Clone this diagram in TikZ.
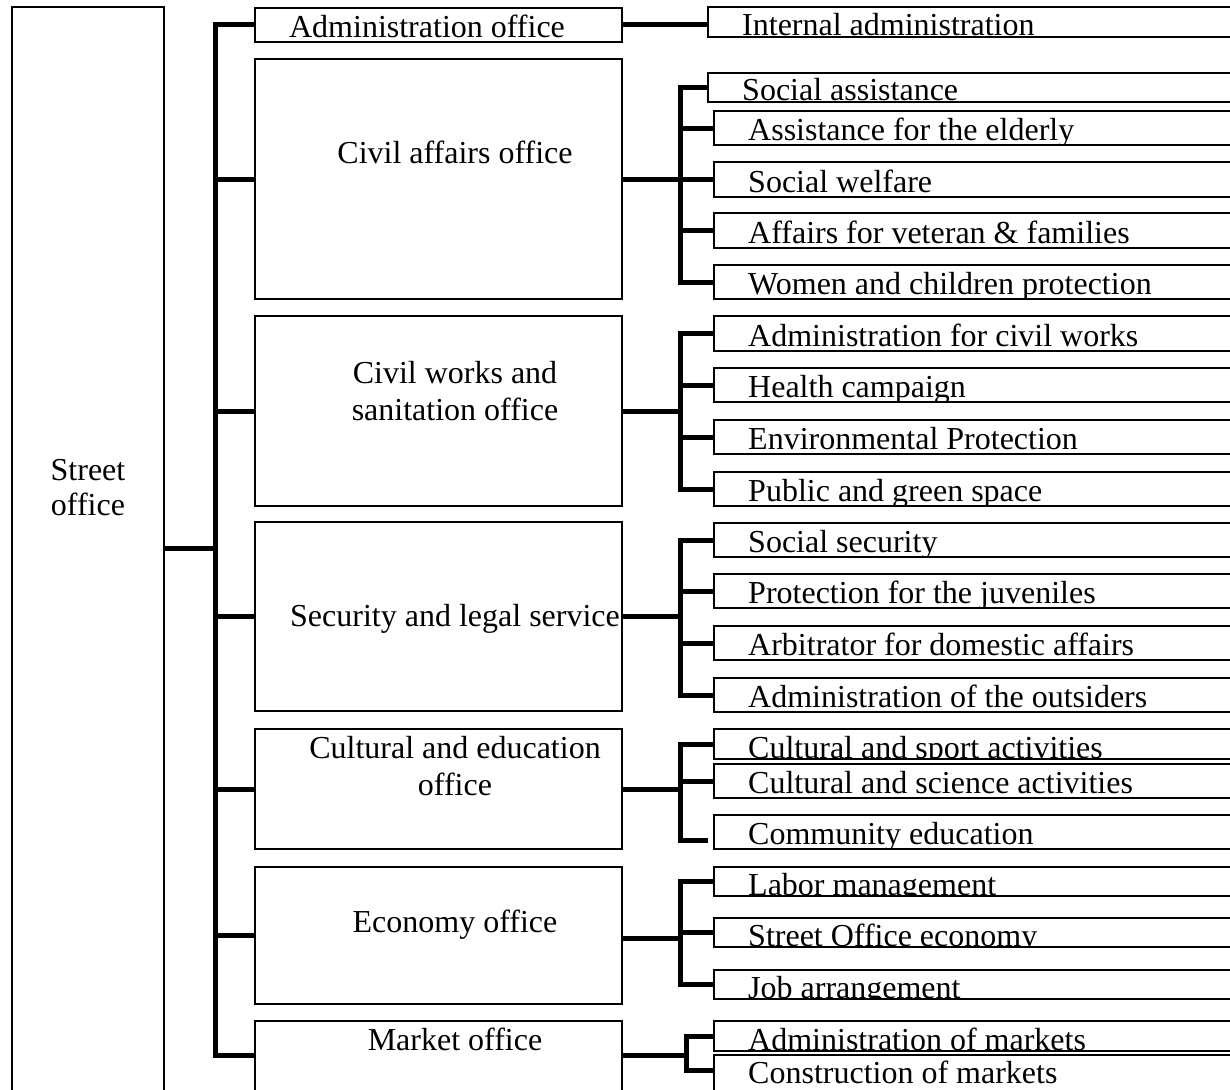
\documentclass[tikz,border=0pt]{standalone}
\usepackage{fontspec}
\setmainfont{Liberation Serif}

% A right-hand unit box, open to the right, whose label sits on its bottom edge
% #1 name, #2 left x, #3 top y, #4 bottom y, #5 label, #6 baseline lift
\newcommand\leafitem[6]{%
  \node[box, minimum width={1260pt-#2pt}, minimum height={#4pt-#3pt}] (#1) at (#2,#3) {};
  \begin{scope}
    \clip (#1.south west) rectangle (#1.north east);
    \node[leaftext] (#1text) at ([xshift=34pt,yshift=#6pt]#1.south west) {#5};
  \end{scope}}

% An office box in the middle column: #1 name, #2 top y, #3 height
\newcommand\midbox[3]{%
  \node[box, minimum width=367pt, minimum height=#3pt] (#1) at (255,#2) {};}

\begin{document}
\begin{tikzpicture}[x=1pt,y=-1pt,
  box/.style={draw=black, line width=1.2pt, inner sep=0pt, outer sep=0pt, anchor=north west},
  conn/.style={draw=black, line width=5pt, line cap=butt, line join=miter},
  lbl/.style={anchor=base, inner sep=0pt, font=\fontsize{32}{36}\selectfont},
  leaftext/.style={anchor=base west, inner sep=0pt, font=\fontsize{32}{36}\selectfont}]

\useasboundingbox (0,0) rectangle (1230,1089);
\fill[white] (0,0) rectangle (1230,1089);
\clip (0,0) rectangle (1230,1089);

% ---- head office (runs past the lower edge) ----
\node[box, minimum width=152pt, minimum height=1093pt] (street) at (12,7) {};
\node[lbl] (streetA) at (88,480) {Street};
\node[lbl] (streetB) at (88,515) {office};

% ---- offices ----
\midbox{admin}{8}{34}
\midbox{civ}{59}{240}
\midbox{works}{316}{190}
\midbox{sec}{522}{189}
\midbox{cult}{729}{120}
\midbox{econ}{867}{137}
\midbox{mkt}{1021}{79}

\node[lbl] (adminT) at (427,38) {Administration office};
\node[lbl] (civT) at (455,163) {Civil affairs office};
\node[lbl] (worksA) at (455,383) {Civil works and};
\node[lbl] (worksB) at (455,420) {sanitation office};
\node[lbl] (secT) at (455,626) {Security and legal service};
\node[lbl] (cultA) at (455,758) {Cultural and education};
\node[lbl] (cultB) at (455,795) {office};
\node[lbl] (econT) at (455,932) {Economy office};
\node[lbl] (mktT) at (455,1050) {Market office};

% ---- units ----
\leafitem{internal}{708}{7}{37}{Internal administration}{1}

\leafitem{socassist}{708}{73}{102}{Social assistance}{1.5}
\leafitem{elderly}{714}{111}{145}{Assistance for the elderly}{4.5}
\leafitem{welfare}{714}{162}{197}{Social welfare}{4.5}
\leafitem{veteran}{714}{213}{248}{Affairs for veteran \& families}{4.5}
\leafitem{women}{714}{265}{299}{Women and children protection}{4.5}

\leafitem{cwadmin}{714}{316}{351}{Administration for civil works}{4.5}
\leafitem{health}{714}{368}{402}{Health campaign}{4.5}
\leafitem{envprot}{714}{420}{454}{Environmental Protection}{4.5}
\leafitem{green}{714}{472}{506}{Public and green space}{4.5}

\leafitem{socsec}{714}{523}{557}{Social security}{4.5}
\leafitem{juven}{714}{574}{608}{Protection for the juveniles}{4.5}
\leafitem{arbit}{714}{626}{660}{Arbitrator for domestic affairs}{4.5}
\leafitem{outsid}{714}{678}{712}{Administration of the outsiders}{4.5}

\leafitem{sport}{714}{729}{759}{Cultural and sport activities}{1}
\leafitem{science}{714}{764}{798}{Cultural and science activities}{4.5}
\leafitem{commedu}{714}{815}{849}{Community education}{4.5}

\leafitem{labor}{714}{867}{896}{Labor management}{1}
\leafitem{soeco}{714}{918}{947}{Street Office economy}{1}
\leafitem{jobarr}{714}{970}{999}{Job arrangement}{1}

\leafitem{admmkt}{714}{1021}{1051}{Administration of markets}{1}
\leafitem{constr}{714}{1055}{1100}{Construction of markets}{17}

% ---- connectors: head office to offices ----
\coordinate (tx) at (215,0);
\coordinate (streetport) at ([yshift=5.5pt]street.east);
\coordinate (mktport) at ([yshift=5.5pt]mkt.west);
\draw[conn] (streetport) -- (streetport -| tx);
\draw[conn] (admin.west) -- (admin.west -| tx) -- (mktport -| tx) -- (mktport);
\foreach \n in {civ,works,sec,cult,econ}
  \draw[conn] (\n.west -| tx) -- (\n.west);

% ---- connectors: offices to units ----
\coordinate (bx) at (680,0);
\coordinate (bm) at (686,0);

\draw[conn] (admin.east) -- (admin.east -| internal.west);

\draw[conn] (civ.east) -- (civ.east -| bx);
\draw[conn] (socassist.west) -- (socassist.west -| bx) -- (women.west -| bx) -- (women.west);
\foreach \n in {elderly,welfare,veteran}
  \draw[conn] (\n.west -| bx) -- (\n.west);

\draw[conn] (works.east) -- (works.east -| bx);
\draw[conn] (cwadmin.west) -- (cwadmin.west -| bx) -- (green.west -| bx) -- (green.west);
\foreach \n in {health,envprot}
  \draw[conn] (\n.west -| bx) -- (\n.west);

\draw[conn] (sec.east) -- (sec.east -| bx);
\draw[conn] (socsec.west) -- (socsec.west -| bx) -- (outsid.west -| bx) -- (outsid.west);
\foreach \n in {juven,arbit}
  \draw[conn] (\n.west -| bx) -- (\n.west);

\coordinate (commtip) at ([xshift=-6pt,yshift=-8pt]commedu.west);
\draw[conn] (cult.east) -- (cult.east -| bx);
\draw[conn] (sport.west) -- (sport.west -| bx) -- (commtip -| bx) -- (commtip);
\draw[conn] (science.west -| bx) -- (science.west);

\coordinate (econport) at ([yshift=-3pt]econ.east);
\draw[conn] (econport) -- (econport -| bx);
\draw[conn] (labor.west) -- (labor.west -| bx) -- (jobarr.west -| bx) -- (jobarr.west);
\draw[conn] (soeco.west -| bx) -- (soeco.west);

\coordinate (mktout) at ([yshift=5.5pt]mkt.east);
\coordinate (constrport) at ([yshift=7.5pt]constr.west);
\draw[conn] (mktout) -- (mktout -| bm);
\draw[conn] (admmkt.west) -- (admmkt.west -| bm) -- (constrport -| bm) -- (constrport);

\end{tikzpicture}
\end{document}
